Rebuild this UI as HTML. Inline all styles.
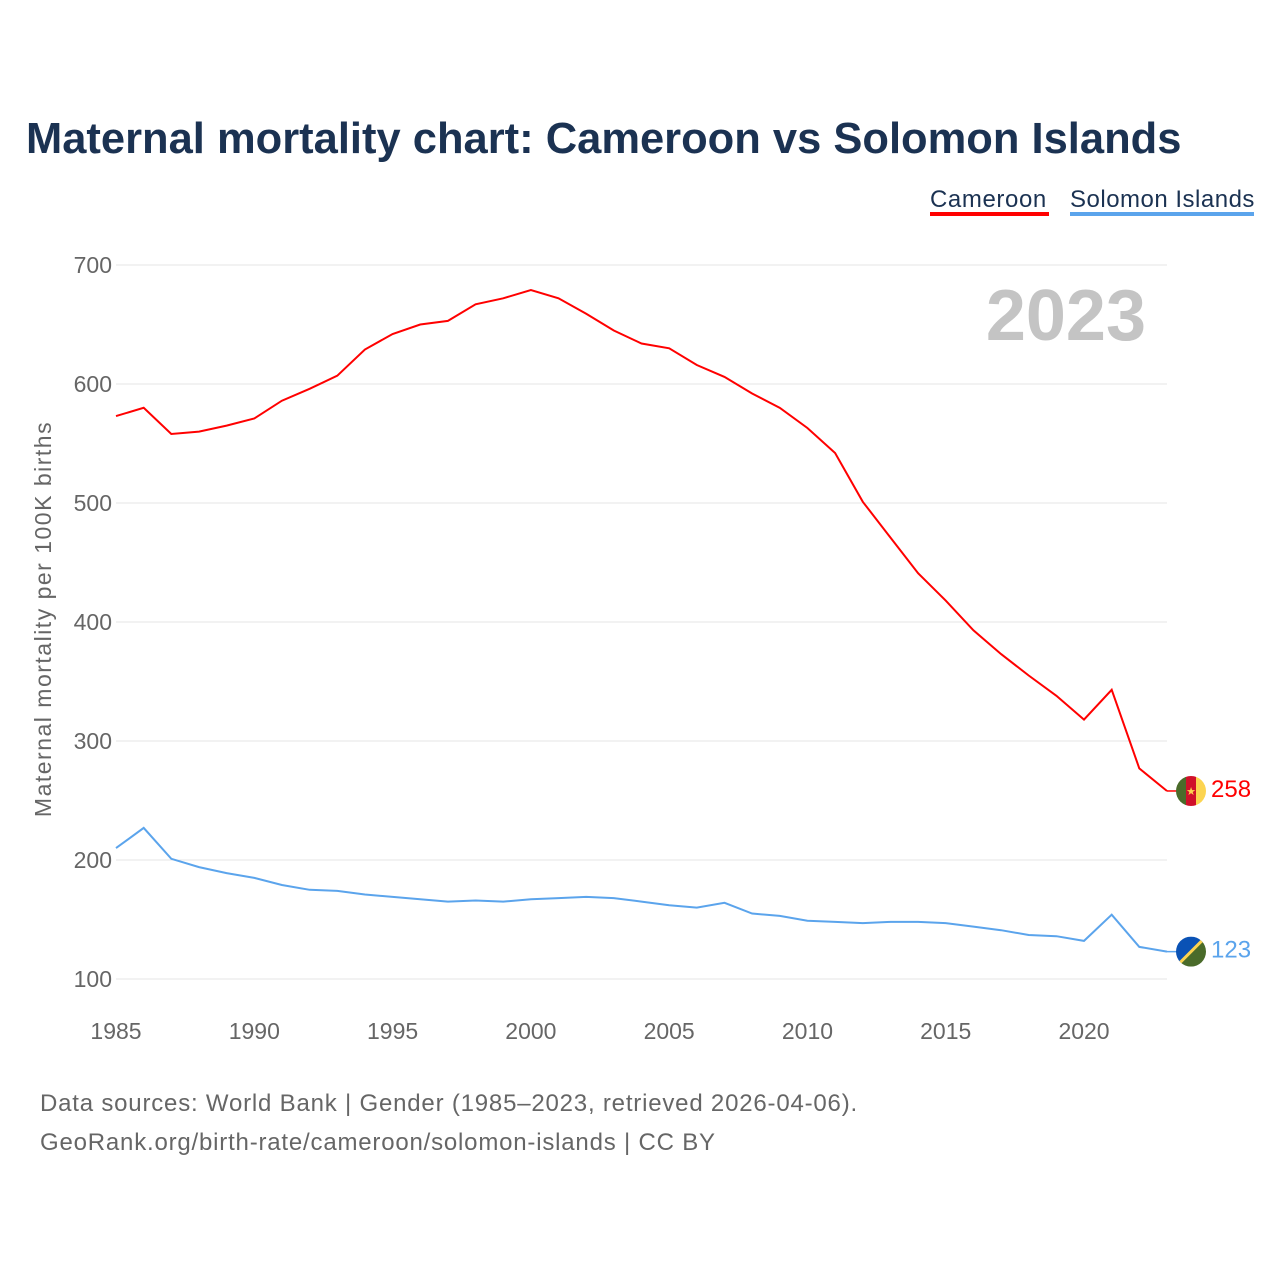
<!DOCTYPE html>
<html><head><meta charset="utf-8"><style>
body{margin:0;background:#fff;font-family:"Liberation Sans",sans-serif;}
svg text{font-family:"Liberation Sans",sans-serif;}
</style></head><body>
<svg width="1280" height="1280" xmlns="http://www.w3.org/2000/svg" id="chart">
<text x="26" y="153" font-size="43.5" font-weight="bold" fill="#1b3252">Maternal mortality chart: Cameroon vs Solomon Islands</text>
<g>
<text x="930" y="207" font-size="24" letter-spacing="0.6" fill="#1b3252">Cameroon</text>
<rect x="930" y="212" width="119" height="4" fill="#ff0000"/>
<text x="1070" y="207" font-size="24" letter-spacing="0.5" fill="#1b3252">Solomon Islands</text>
<rect x="1070" y="212" width="184" height="4" fill="#5ba4ec"/>
</g>
<text x="1146" y="340" font-size="72" font-weight="bold" fill="#c4c4c4" text-anchor="end">2023</text>
<g id="grid"></g><g id="xt"></g>
<text transform="translate(51,619) rotate(-90)" font-size="23" letter-spacing="1.5" fill="#666" text-anchor="middle">Maternal mortality per 100K births</text>
<g id="lines"></g>
<text x="40" y="1111" font-size="24" letter-spacing="0.8" fill="#666">Data sources: World Bank | Gender (1985–2023, retrieved 2026-04-06).</text>
<text x="40" y="1150" font-size="24" letter-spacing="0.8" fill="#666">GeoRank.org/birth-rate/cameroon/solomon-islands | CC BY</text>
</svg>
<script>
const years=[];for(let y=1985;y<=2023;y++)years.push(y);
const cameroon=[573,580,558,560,565,571,586,596,607,629,642,650,653,667,672,679,672,659,645,634,630,616,606,592,580,563,542,501,471,441,418,393,373,355,338,318,343,277,258];
const solomon=[210,227,201,194,189,185,179,175,174,171,169,167,165,166,165,167,168,169,168,165,162,160,164,155,153,149,148,147,148,148,147,144,141,137,136,132,154,127,123];
const yTicks=[100,200,300,400,500,600,700];
const xTicks=[1985,1990,1995,2000,2005,2010,2015,2020];
const NS="http://www.w3.org/2000/svg";
const X=y=>116+(y-1985)*(1167-116)/38;
const Y=v=>979-(v-100)*714/600;
function mk(t,a,p){const e=document.createElementNS(NS,t);for(const k in a)e.setAttribute(k,a[k]);p.appendChild(e);return e;}
const g=document.getElementById('grid');
yTicks.forEach(v=>{
 const l=mk('line',{x1:116,x2:1167,y1:Y(v),y2:Y(v),stroke:'#e6e6e6','stroke-width':1},g);
 
 
 const t=mk('text',{x:112,y:Y(v)+8,'font-size':23,fill:'#666','text-anchor':'end'},g);t.textContent=v;
 
 
});
const xt=document.getElementById('xt');
xTicks.forEach(v=>{
 const t=mk('text',{x:X(v),y:1039,'font-size':23,fill:'#666','text-anchor':'middle'},xt);t.textContent=v;
 
 
});
const L=document.getElementById('lines');
function series(vals,color,name){
 const p=mk('path',{d:vals.map((v,i)=>(i?'L':'M')+X(years[i]).toFixed(1)+' '+Y(v).toFixed(1)).join(''),fill:'none',stroke:color,'stroke-width':2},L);
 
 
 const last=vals[vals.length-1];
 const c=mk('line',{x1:1167,x2:1180,y1:Y(last),y2:Y(last),stroke:color,'stroke-width':1.5},L);
 
 
 const t=mk('text',{x:1211,y:Y(last)+6,'font-size':24,fill:color},L);t.textContent=last;
 
 
 return Y(last);
}
const yc=series(cameroon,'#ff0000','cameroon');
const ys=series(solomon,'#5ba4ec','solomon-islands');
const f1=mk('g',{},L);


const cp1=mk('clipPath',{id:'c1'},f1);mk('circle',{cx:1191,cy:yc,r:15},cp1);
const gg=mk('g',{'clip-path':'url(#c1)'},f1);
mk('rect',{x:1176,y:yc-15,width:10,height:30,fill:'#4a6b2a'},gg);
mk('rect',{x:1186,y:yc-15,width:10,height:30,fill:'#d0102a'},gg);
mk('rect',{x:1196,y:yc-15,width:10,height:30,fill:'#fcd450'},gg);
const st=mk('text',{x:1191,y:yc+4,'font-size':11,fill:'#fcd450','text-anchor':'middle'},gg);st.textContent='★';
const f2=mk('g',{},L);


const cp=mk('clipPath',{id:'c2'},f2);mk('circle',{cx:1191,cy:ys,r:15},cp);
const g2=mk('g',{'clip-path':'url(#c2)'},f2);
mk('polygon',{points:`1176,${ys-15} 1206,${ys-15} 1176,${ys+15}`,fill:'#0a52b5'},g2);
mk('polygon',{points:`1206,${ys-15} 1206,${ys+15} 1176,${ys+15}`,fill:'#4a6b2a'},g2);
mk('line',{x1:1208,y1:ys-17,x2:1174,y2:ys+17,stroke:'#fcd450','stroke-width':3},g2);
</script>
</body></html>
